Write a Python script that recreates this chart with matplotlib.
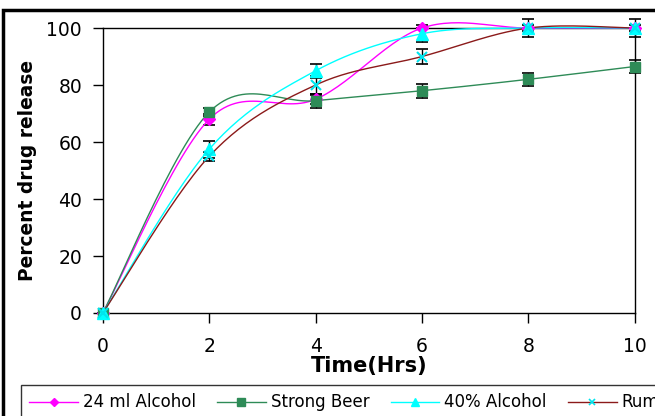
import numpy as np
import matplotlib
matplotlib.use("Agg")
import matplotlib.pyplot as plt
from matplotlib.patches import Rectangle

plt.rcParams['font.family'] = ['DejaVu Sans']

# Data
time_hrs = [0, 2, 4, 6, 8, 10]
alcohol_24ml = [0, 68, 75, 100, 100, 100]
alcohol_24ml_err = [0, 2, 1.5, 0, 0, 0]
strong_beer = [0, 70.5, 74.5, 78, 82, 86.5]
strong_beer_err = [0, 1.5, 2.5, 2.5, 2.3, 2.3]
alcohol_40 = [0, 57.5, 85, 98, 100, 100]
alcohol_40_err = [0, 3, 2.5, 3, 3, 3]
rum = [0, 55, 80, 90, 100, 100]
rum_err = [0, 1.5, 3, 2.6, 1, 1]

labels = ['24 ml Alcohol', 'Strong Beer', '40% Alcohol', 'Rum']


def smooth(x, y, n=30):
    # Excel-style smoothed line (Catmull-Rom Bezier through the points)
    x = np.asarray(x, float)
    y = np.asarray(y, float)
    px = np.concatenate([[x[0]], x, [x[-1]]])
    py = np.concatenate([[y[0]], y, [y[-1]]])
    pts = np.column_stack([px, py])
    t = np.linspace(0, 1, n)[:, None]
    xs, ys = [], []
    for i in range(1, len(pts) - 2):
        p0, p3 = pts[i], pts[i + 1]
        p1 = p0 + (pts[i + 1] - pts[i - 1]) / 6
        p2 = p3 - (pts[i + 2] - pts[i]) / 6
        b = (1 - t) ** 3 * p0 + 3 * (1 - t) ** 2 * t * p1 + 3 * (1 - t) * t ** 2 * p2 + t ** 3 * p3
        xs.extend(b[:, 0])
        ys.extend(b[:, 1])
    return xs, ys


fig = plt.figure(figsize=(6.55, 4.16), dpi=100)
ax = fig.add_axes([0.157, 0.2476, 0.812, 0.685])

# values, errors, line colour, marker colour, marker, marker size
series = [
    (alcohol_24ml, alcohol_24ml_err, '#ff00ff', '#ff00ff', 'D', 6),
    (strong_beer, strong_beer_err, '#2e8b57', '#2e8b57', 's', 7.5),
    (alcohol_40, alcohol_40_err, '#00ffff', '#00ffff', '^', 8),
    (rum, rum_err, '#8b1a1a', '#00e5ee', 'x', 7),
]

handles = []
for (vals, err, lc, mc, mk, ms), lab in zip(series, labels):
    sx, sy = smooth(time_hrs, vals)
    ax.plot(sx, sy, color=lc, lw=1, clip_on=False, zorder=3)
    ax.errorbar(time_hrs, vals, yerr=err, fmt='none', ecolor='black',
                elinewidth=1, capsize=4, capthick=1.2, zorder=2, clip_on=False)
    ax.plot(time_hrs, vals, linestyle='none', marker=mk, color=mc, ms=ms,
            mew=1.5 if mk == 'x' else 1, zorder=4, clip_on=False)
    h, = ax.plot([], [], color=lc, lw=1, marker=mk, markerfacecolor=mc,
                 markeredgecolor=mc, ms=ms - 2, mew=1.2 if mk == 'x' else 1)
    handles.append(h)

ax.set_xlim(0, 10)
ax.set_ylim(0, 100)
ax.set_xticks(time_hrs)
ax.set_yticks([0, 20, 40, 60, 80, 100])
ax.tick_params(direction='out', length=7, width=1, labelsize=13.5)
ax.tick_params(axis='x', pad=10)
ax.tick_params(axis='y', pad=8)
for s in ax.spines.values():
    s.set_linewidth(1)
ax.set_xlabel('Time(Hrs)', fontsize=15, fontweight='bold', labelpad=0)
ax.set_ylabel('Percent drug release', fontsize=13.4, fontweight='bold', labelpad=7)

leg = fig.legend(handles, labels, loc='upper left', bbox_to_anchor=(21 / 655, 1 - 385 / 416),
                 ncol=4, fontsize=12, handlelength=2.9, columnspacing=1.3,
                 handletextpad=0.3, frameon=True, fancybox=False, borderaxespad=0,
                 borderpad=0.5)
leg.get_frame().set_edgecolor('black')
leg.get_frame().set_linewidth(1)

fig.patches.append(Rectangle((2.5 / 655, -0.1), 1.1, 1.1 - 10 / 416 + 0.001,
                             transform=fig.transFigure, fill=False,
                             edgecolor='black', lw=2.5))

fig.savefig('out.png', dpi=100)
